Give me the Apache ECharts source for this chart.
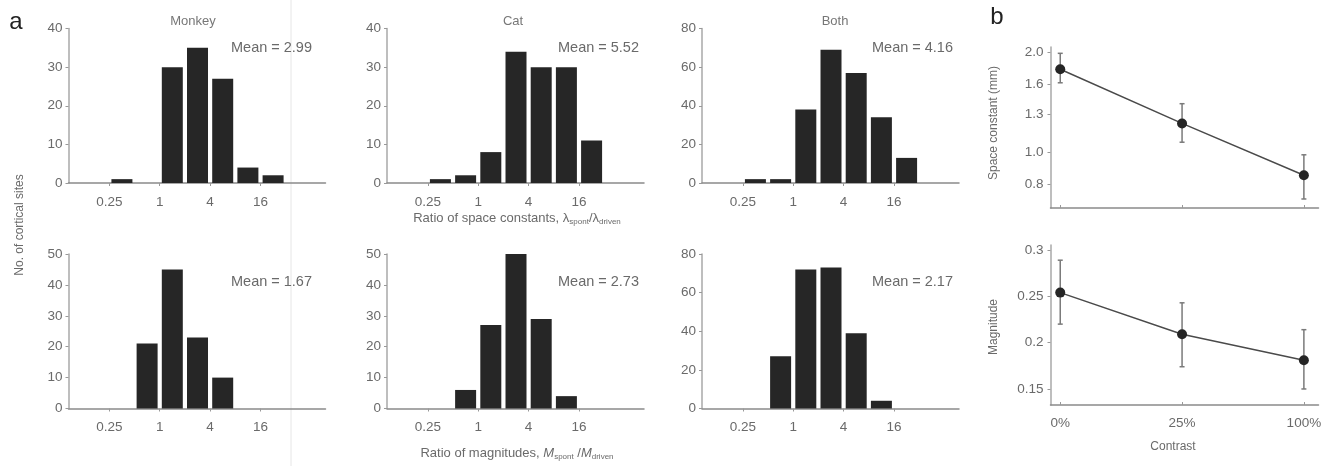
<!DOCTYPE html>
<html><head><meta charset="utf-8">
<script src="https://cdn.jsdelivr.net/npm/echarts@6/dist/echarts.min.js"></script>
<style>html,body{margin:0;padding:0;background:#fff}#c{width:1325px;height:466px}</style>
</head><body><div id="c"></div>
<script>
// ---- data (panel a: histograms, log2 bins with lower edges below) ----
var binLow = [0.25, 0.5, 1, 2, 4, 8, 16];
var monkeySpace = [1, 0, 30, 35, 27, 4, 2];
var catSpace    = [1, 2, 8, 34, 30, 30, 11];
var bothSpace   = [2, 2, 38, 69, 57, 34, 13];
var monkeyMag   = [0, 21, 45, 23, 10, 0, 0];
var catMag      = [0, 6, 27, 50, 29, 4, 0];
var bothMag     = [0, 27, 72, 73, 39, 4, 0];
var xTickRatios = [0.25, 1, 4, 16];
var panelTitles = ['Monkey', 'Cat', 'Both'];
var meansSpace = ['Mean = 2.99', 'Mean = 5.52', 'Mean = 4.16'];
var meansMag   = ['Mean = 1.67', 'Mean = 2.73', 'Mean = 2.17'];
var yMaxTop = [40, 40, 80], yStepTop = [10, 10, 20];
var yMaxBot = [50, 50, 80], yStepBot = [10, 10, 20];
// ---- data (panel b) ----
var contrast = ['0%', '25%', '100%'];
var spaceMean = [1.78, 1.22, 0.85];
var spaceLow  = [1.62, 1.07, 0.72];
var spaceHigh = [1.99, 1.40, 0.98];
var spaceTicks = [0.8, 1.0, 1.3, 1.6, 2.0];
var magMean = [0.254, 0.209, 0.181];
var magLow  = [0.220, 0.174, 0.150];
var magHigh = [0.289, 0.243, 0.214];
var magTicks = [0.15, 0.2, 0.25, 0.3];

var FONT = 'Liberation Sans, Arial, sans-serif';
var TXT = '#6a6a6a';
var BAR = '#262626';
var chart = echarts.init(document.getElementById('c'));

var grids = [], xAxes = [], yAxes = [], series = [];
var colLeft = [68.5, 387, 702];
var rowTop = [28.5, 254];
var GW = 257, GH = 154.5;
var log2 = function (v) { return Math.log(v) / Math.LN2; };

function addHist(col, row, values, ymax, ystep) {
  var idx = grids.length;
  grids.push({left: colLeft[col], top: rowTop[row], width: GW, height: GH});
  xAxes.push({
    type: 'value', gridIndex: idx, min: -3.62, max: 6.58,
    splitLine: {show: false},
    axisLine: {onZero: false, lineStyle: {color: '#8a8a8a', width: 1.5}},
    axisTick: {show: true, length: 3, lineStyle: {color: '#999'}, customValues: xTickRatios.map(log2)},
    axisLabel: {customValues: xTickRatios.map(log2), color: TXT, fontFamily: FONT, fontSize: 13.5, margin: 12,
      formatter: function (v) { return String(Math.round(Math.pow(2, v) * 100) / 100); }}
  });
  yAxes.push({
    type: 'value', gridIndex: idx, min: 0, max: ymax, interval: ystep,
    splitLine: {show: false},
    axisLine: {show: true, onZero: false, lineStyle: {color: '#a8a8a8', width: 1.5}},
    axisTick: {show: true, length: 3, lineStyle: {color: '#999'}},
    axisLabel: {color: TXT, fontFamily: FONT, fontSize: 13.5, margin: 6}
  });
  var d = [];
  for (var i = 0; i < binLow.length; i++) {
    if (values[i] > 0) d.push([log2(binLow[i]) + 0.5, values[i]]);
  }
  series.push({type: 'bar', xAxisIndex: idx, yAxisIndex: idx, data: d, barWidth: 21,
    itemStyle: {color: BAR}, silent: true});
}
addHist(0, 0, monkeySpace, yMaxTop[0], yStepTop[0]);
addHist(1, 0, catSpace, yMaxTop[1], yStepTop[1]);
addHist(2, 0, bothSpace, yMaxTop[2], yStepTop[2]);
addHist(0, 1, monkeyMag, yMaxBot[0], yStepBot[0]);
addHist(1, 1, catMag, yMaxBot[1], yStepBot[1]);
addHist(2, 1, bothMag, yMaxBot[2], yStepBot[2]);

// ---- panel b ----
function addLine(top, height, mean, lo, hi, toY, ymin, ymax, ticks, fmt, showX) {
  var idx = grids.length;
  grids.push({left: 1050.5, top: top, width: 268, height: height});
  xAxes.push({
    type: 'value', gridIndex: idx, min: -0.08, max: 2.12,
    splitLine: {show: false},
    axisLine: {onZero: false, lineStyle: {color: '#8a8a8a', width: 1.5}},
    axisTick: {show: true, inside: true, length: 3, customValues: [0, 1, 2], lineStyle: {color: '#999'}},
    axisLabel: {show: showX, customValues: [0, 1, 2], color: TXT, fontFamily: FONT, fontSize: 13.5, margin: 11,
      formatter: function (v) { return contrast[Math.round(v)]; }}
  });
  yAxes.push({
    type: 'value', gridIndex: idx, min: ymin, max: ymax,
    splitLine: {show: false},
    axisLine: {show: true, onZero: false, lineStyle: {color: '#a8a8a8', width: 1.5}},
    axisTick: {show: true, length: 3, customValues: ticks.map(toY), lineStyle: {color: '#999'}},
    axisLabel: {customValues: ticks.map(toY), color: TXT, fontFamily: FONT, fontSize: 13.5, margin: 7,
      formatter: fmt}
  });
  var err = [];
  for (var i = 0; i < mean.length; i++) err.push([i, toY(lo[i]), toY(hi[i])]);
  series.push({
    type: 'custom', xAxisIndex: idx, yAxisIndex: idx, data: err, silent: true, z: 1,
    renderItem: function (params, api) {
      var a = api.coord([api.value(0), api.value(1)]);
      var b = api.coord([api.value(0), api.value(2)]);
      var st = {stroke: '#7a7a7a', lineWidth: 1.5};
      return {type: 'group', children: [
        {type: 'line', shape: {x1: a[0], y1: a[1], x2: b[0], y2: b[1]}, style: st},
        {type: 'line', shape: {x1: a[0] - 2.5, y1: a[1], x2: a[0] + 2.5, y2: a[1]}, style: st},
        {type: 'line', shape: {x1: b[0] - 2.5, y1: b[1], x2: b[0] + 2.5, y2: b[1]}, style: st}
      ]};
    }
  });
  series.push({
    type: 'line', xAxisIndex: idx, yAxisIndex: idx, silent: true, z: 3,
    data: mean.map(function (v, i) { return [i, toY(v)]; }),
    symbol: 'circle', symbolSize: 10,
    lineStyle: {color: '#4a4a4a', width: 1.5},
    itemStyle: {color: '#252525'}
  });
}
var log10 = function (v) { return Math.log(v) / Math.LN10; };
addLine(47, 161, spaceMean, spaceLow, spaceHigh, log10, -0.17, 0.318, spaceTicks,
  function (v) { return Math.pow(10, v).toFixed(1); }, false);
addLine(245, 160, magMean, magLow, magHigh, function (v) { return v; }, 0.1327, 0.3054, magTicks,
  function (v) { return String(Math.round(v * 100) / 100); }, true);

// ---- texts ----
var g = [];
function txt(x, y, s, opt) {
  var o = {type: 'text', x: x, y: y, silent: true,
    style: Object.assign({text: s, fill: TXT, font: '13px ' + FONT, textAlign: 'center', textVerticalAlign: 'middle'}, opt || {})};
  return o;
}
g.push({type: 'line', silent: true, shape: {x1: 291, y1: 0, x2: 291, y2: 466}, style: {stroke: '#e6e6e6', lineWidth: 1}});
g.push(txt(16, 22, 'a', {fill: '#222', font: '24px ' + FONT}));
g.push(txt(997, 17, 'b', {fill: '#222', font: '24px ' + FONT}));
var titleX = [193, 513, 835];
for (var k = 0; k < 3; k++) {
  g.push(txt(titleX[k], 21, panelTitles[k], {fill: '#777', font: '13px ' + FONT}));
}
var meanRight = [312, 639, 953];
for (var k2 = 0; k2 < 3; k2++) {
  g.push(txt(meanRight[k2], 48, meansSpace[k2], {textAlign: 'right', font: '14.5px ' + FONT}));
  g.push(txt(meanRight[k2], 282, meansMag[k2], {textAlign: 'right', font: '14.5px ' + FONT}));
}
var yl = txt(20, 225, 'No. of cortical sites', {font: '12px ' + FONT});
yl.rotation = Math.PI / 2; g.push(yl);
var y2 = txt(994, 123, 'Space constant (mm)', {font: '12px ' + FONT});
y2.rotation = Math.PI / 2; g.push(y2);
var y3 = txt(994, 327, 'Magnitude', {font: '12px ' + FONT});
y3.rotation = Math.PI / 2; g.push(y3);
g.push(txt(1173, 447, 'Contrast', {font: '12px ' + FONT}));
g.push({type: 'text', x: 517, y: 218, silent: true, style: {
  text: '{a|Ratio of space constants, λ}{s|spont}{a|/λ}{s|driven}',
  textAlign: 'center', textVerticalAlign: 'middle', fill: TXT,
  rich: {a: {fontSize: 13, fontFamily: FONT, fill: TXT}, s: {fontSize: 8, fontFamily: FONT, fill: TXT, padding: [8, 0, 0, 0]}}
}});
g.push({type: 'text', x: 517, y: 453, silent: true, style: {
  text: '{a|Ratio of magnitudes, }{i|M}{s|spont}{a| /}{i|M}{s|driven}',
  textAlign: 'center', textVerticalAlign: 'middle', fill: TXT,
  rich: {a: {fontSize: 13, fontFamily: FONT, fill: TXT}, i: {fontSize: 13, fontStyle: 'italic', fontFamily: FONT, fill: TXT},
         s: {fontSize: 8, fontFamily: FONT, fill: TXT, padding: [8, 0, 0, 0]}}
}});

chart.setOption({
  animation: false,
  backgroundColor: '#fff',
  grid: grids, xAxis: xAxes, yAxis: yAxes, series: series,
  graphic: g
});
</script></body></html>
